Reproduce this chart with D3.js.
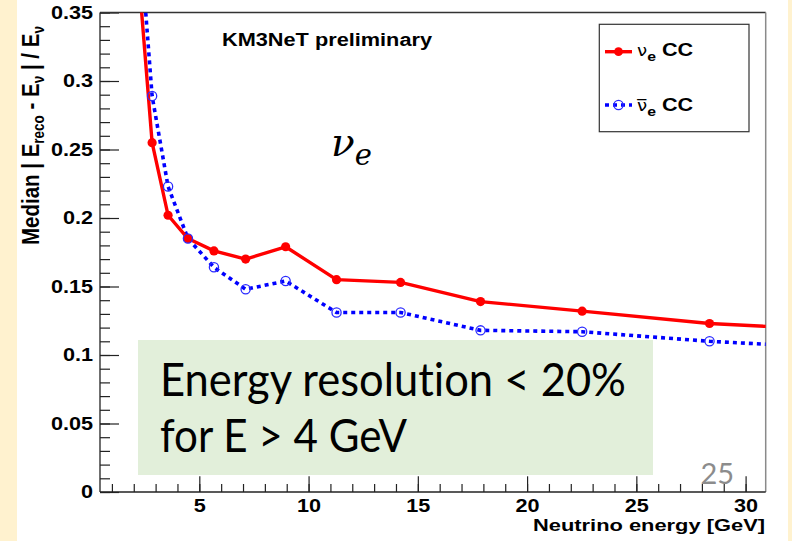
<!DOCTYPE html>
<html>
<head>
<meta charset="utf-8">
<script src="https://cdn.jsdelivr.net/npm/d3@7"></script>
<style>
  html, body { margin: 0; padding: 0; background: #ffffff; }
  svg { display: block; }
  text { font-variant-ligatures: none; }
</style>
</head>
<body>
<svg id="chart" width="792" height="541"></svg>
<script>
// Neutrino energy bin centres [GeV] and median relative energy error per channel
const energy   = [2.24, 2.84, 3.57, 4.48, 5.67, 7.12, 8.95, 11.28, 14.21, 17.87, 22.52, 28.35, 35.6];
const nueCC    = [0.374, 0.255, 0.202, 0.185, 0.176, 0.170, 0.179, 0.155, 0.153, 0.139, 0.132, 0.123, 0.117];
const nuebarCC = [0.414, 0.289, 0.223, 0.185, 0.164, 0.148, 0.154, 0.131, 0.131, 0.118, 0.117, 0.110, 0.104];

const xMajorTicks = [5, 10, 15, 20, 25, 30];
const xMinorTicks = d3.range(1, 31);
const yMajorTicks = [0, 0.05, 0.1, 0.15, 0.2, 0.25, 0.3, 0.35];
const yMinorTicks = d3.range(0, 36).map(d => d / 100);

const svg = d3.select("#chart");
const W = 792, H = 541;
const frame = { left: 100, right: 765.7, top: 12.5, bottom: 492 };
const SX = 1.17;           // horizontal stretch of the plot lettering
const ROOT_FONT = "'Liberation Sans', Arial, Helvetica, sans-serif";

// slide background strips
svg.append("rect").attr("x", 0).attr("y", 0).attr("width", W).attr("height", H).attr("fill", "#ffffff");
svg.append("rect").attr("x", 0).attr("y", 0).attr("width", 17).attr("height", H).attr("fill", "#fff2cf");
svg.append("rect").attr("x", 788).attr("y", 0).attr("width", W - 788).attr("height", H).attr("fill", "#fff2cf");

const x = d3.scaleLinear().domain([0.455, 30.92]).range([frame.left, frame.right]);
const y = d3.scaleLinear().domain([0, 0.35]).range([frame.bottom, frame.top]);

// summary box behind the plot
svg.append("rect")
  .attr("x", 138).attr("y", 340).attr("width", 515).attr("height", 135)
  .attr("fill", "#e2efda");

// ---- axes ----
const gx = svg.append("g").attr("transform", `translate(0,${frame.bottom})`);
gx.append("g").call(d3.axisBottom(x).tickValues(xMinorTicks).tickFormat("").tickSizeInner(-8).tickSizeOuter(0))
  .call(g => g.select(".domain").remove());
gx.append("g").call(d3.axisBottom(x).tickValues(xMajorTicks).tickFormat(d3.format("d")).tickSizeInner(-15.7).tickSizeOuter(0).tickPadding(6.5))
  .call(g => g.select(".domain").remove());

const gy = svg.append("g").attr("transform", `translate(${frame.left},0)`);
gy.append("g").call(d3.axisLeft(y).tickValues(yMinorTicks).tickFormat("").tickSizeInner(-10).tickSizeOuter(0))
  .call(g => g.select(".domain").remove());
gy.append("g").call(d3.axisLeft(y).tickValues(yMajorTicks).tickFormat(d => d === 0 ? "0" : String(+d.toFixed(2))).tickSizeInner(-19).tickSizeOuter(0).tickPadding(6))
  .call(g => g.select(".domain").remove());

svg.selectAll(".tick line").attr("stroke", "#222").attr("stroke-width", 1.2);
svg.selectAll(".tick text")
  .attr("font-family", ROOT_FONT).attr("font-weight", "bold").attr("font-size", 18.5)
  .attr("fill", "#000")
  .attr("transform", `scale(${SX},1)`);

// frame
svg.append("line").attr("x1", frame.left).attr("x2", frame.right).attr("y1", frame.top).attr("y2", frame.top)
  .attr("stroke", "#333").attr("stroke-width", 1.3);
svg.append("line").attr("x1", frame.right).attr("x2", frame.right).attr("y1", frame.top).attr("y2", frame.bottom)
  .attr("stroke", "#8a8a8a").attr("stroke-width", 1.5);
svg.append("line").attr("x1", frame.left).attr("x2", frame.left).attr("y1", frame.top).attr("y2", frame.bottom)
  .attr("stroke", "#222").attr("stroke-width", 1.3);
svg.append("line").attr("x1", frame.left).attr("x2", frame.right).attr("y1", frame.bottom).attr("y2", frame.bottom)
  .attr("stroke", "#222").attr("stroke-width", 1.3);

// ---- data ----
svg.append("clipPath").attr("id", "plotClip").append("rect")
  .attr("x", frame.left).attr("y", frame.top)
  .attr("width", frame.right - frame.left).attr("height", frame.bottom - frame.top);

const plot = svg.append("g").attr("clip-path", "url(#plotClip)");
const line = d3.line().x(d => x(d[0])).y(d => y(d[1]));

const redPts = energy.map((e, i) => [e, nueCC[i]]);
const bluePts = energy.map((e, i) => [e, nuebarCC[i]]);

plot.append("path").datum(bluePts).attr("d", line)
  .attr("fill", "none").attr("stroke", "#0000ff").attr("stroke-width", 3.6)
  .attr("stroke-dasharray", "4,4");
plot.append("path").datum(redPts).attr("d", line)
  .attr("fill", "none").attr("stroke", "#ff0000").attr("stroke-width", 3.4)
  .attr("stroke-linejoin", "round");

plot.selectAll("circle.red").data(redPts).join("circle").attr("class", "red")
  .attr("cx", d => x(d[0])).attr("cy", d => y(d[1])).attr("r", 4.6).attr("fill", "#ff0000");
plot.selectAll("circle.blue").data(bluePts).join("circle").attr("class", "blue")
  .attr("cx", d => x(d[0])).attr("cy", d => y(d[1])).attr("r", 4.6)
  .attr("fill", "none").attr("stroke", "#2a2aff").attr("stroke-width", 1.3);

// ---- titles ----
svg.append("text")
  .attr("x", 765).attr("y", 531)
  .attr("text-anchor", "end")
  .attr("font-family", ROOT_FONT).attr("font-weight", "bold").attr("font-size", 17)
  .attr("textLength", 232).attr("lengthAdjust", "spacingAndGlyphs")
  .text("Neutrino energy [GeV]");

const yl = svg.append("text")
  .attr("transform", `translate(39,245) scale(${SX},1) rotate(-90)`)
  .attr("font-family", ROOT_FONT).attr("font-weight", "bold").attr("font-size", 20.5);
yl.append("tspan").text("Median | E");
yl.append("tspan").attr("font-size", 13.5).attr("dy", 4).text("reco");
yl.append("tspan").attr("dy", -4).text(" - E");
yl.append("tspan").attr("font-size", 13.5).attr("dy", 4).text("ν");
yl.append("tspan").attr("dy", -4).text(" | / E");
yl.append("tspan").attr("font-size", 13.5).attr("dy", 4).text("ν");

svg.append("text")
  .attr("x", 222).attr("y", 46)
  .attr("font-family", ROOT_FONT).attr("font-weight", "bold").attr("font-size", 18)
  .attr("textLength", 210).attr("lengthAdjust", "spacingAndGlyphs")
  .text("KM3NeT preliminary");

// ---- legend ----
svg.append("rect").attr("x", 599.3).attr("y", 24.3).attr("width", 149.7).attr("height", 107.4)
  .attr("fill", "#ffffff").attr("stroke", "#333").attr("stroke-width", 1.2);

const legend = [
  { y: 51.7, base: 55.5, color: "#ff0000", bar: false },
  { y: 105, base: 110.5, color: "#0000ff", bar: true }
];
legend.forEach(l => {
  if (!l.bar) {
    svg.append("line").attr("x1", 605).attr("x2", 632).attr("y1", l.y).attr("y2", l.y)
      .attr("stroke", l.color).attr("stroke-width", 3.4);
    svg.append("circle").attr("cx", 618.5).attr("cy", l.y).attr("r", 4.4).attr("fill", l.color);
  } else {
    svg.append("line").attr("x1", 605).attr("x2", 632).attr("y1", l.y).attr("y2", l.y)
      .attr("stroke", l.color).attr("stroke-width", 3.6).attr("stroke-dasharray", "4,4");
    svg.append("circle").attr("cx", 618.5).attr("cy", l.y).attr("r", 4.6)
      .attr("fill", "none").attr("stroke", "#2a2aff").attr("stroke-width", 1.3);
  }
  const t = svg.append("text")
    .attr("transform", `translate(637,${l.base}) scale(${SX},1)`)
    .attr("font-family", ROOT_FONT).attr("font-size", 18.5);
  t.append("tspan").attr("font-family", "'DejaVu Sans', sans-serif").attr("font-size", 15.5).text(l.bar ? "ν\u0305" : "ν");
  t.append("tspan").attr("font-weight", "bold").attr("font-size", 13.5).attr("dy", 5).text("e");
  t.append("tspan").attr("font-weight", "bold").attr("dy", -5).text(" CC");
});

// ---- slide annotations ----
const nu = svg.append("text").attr("x", 331).attr("y", 156)
  .attr("font-family", "'DejaVu Serif', 'Liberation Serif', serif").attr("font-style", "italic").attr("font-size", 39);
nu.append("tspan").text("ν");
nu.append("tspan").attr("font-size", 29).attr("dy", 9).text("e");

svg.append("text").attr("x", 160).attr("y", 396)
  .attr("font-family", "Lato, 'Open Sans', sans-serif").attr("font-size", 46)
  .attr("textLength", 466).attr("lengthAdjust", "spacingAndGlyphs")
  .text("Energy resolution < 20%");
svg.append("text").attr("x", 160).attr("y", 452)
  .attr("font-family", "Lato, 'Open Sans', sans-serif").attr("font-size", 46)
  .attr("textLength", 247).attr("lengthAdjust", "spacingAndGlyphs")
  .text("for E > 4 GeV");

svg.append("text").attr("x", 700.5).attr("y", 484)
  .attr("font-family", "Lato, 'Open Sans', sans-serif").attr("font-size", 29)
  .attr("fill", "#8c8c8c")
  .text("25");
</script>
</body>
</html>
